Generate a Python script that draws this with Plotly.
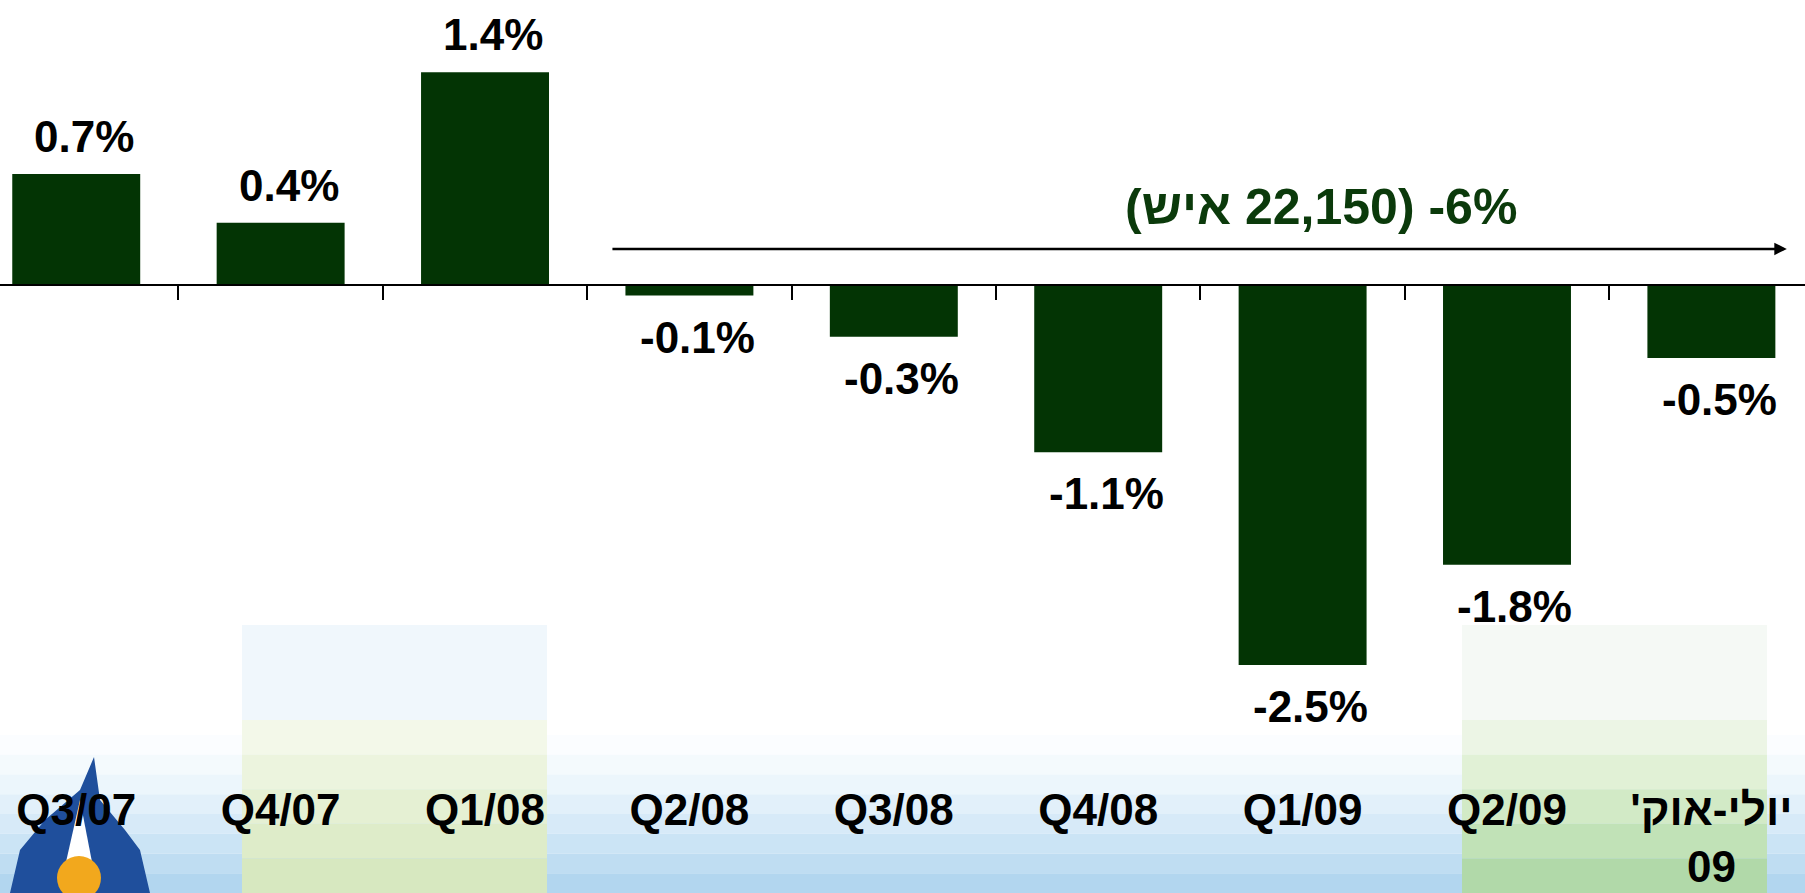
import plotly.graph_objects as go

# ---------------- data ----------------
categories = ["Q3/07", "Q4/07", "Q1/08", "Q2/08", "Q3/08", "Q4/08", "Q1/09", "Q2/09", "Jul-Oct/09"]
tick_labels = ["Q3/07", "Q4/07", "Q1/08", "Q2/08", "Q3/08", "Q4/08", "Q1/09", "Q2/09",
               "יולי-אוק'\u200f<br>09"]
values = [0.73, 0.41, 1.40, -0.07, -0.34, -1.10, -2.50, -1.84, -0.48]
value_labels = ["0.7%", "0.4%", "1.4%", "-0.1%", "-0.3%", "-1.1%", "-2.5%", "-1.8%", "-0.5%"]
trend_text = "(איש\u200e 22,150) -6%"

# ---------------- style ----------------
W, H = 1805, 893
MB = 113                     # bottom margin
PH = H - MB                  # plot-area height in px
BAR_COLOR = "#033404"
TEXT_GREEN = "#0b3a0b"
FONT = "Liberation Sans, Arial, sans-serif"
Y_RANGE = [-3.257, 1.875]
X_RANGE = [-0.373, 8.458]
zero_pos = (0 - Y_RANGE[0]) / (Y_RANGE[1] - Y_RANGE[0])


def py(px):
    """pixel row (from top of figure) -> paper y"""
    return (PH - px) / PH


def pxx(px):
    return px / W


fig = go.Figure()
fig.add_trace(go.Bar(
    x=categories, y=values, marker=dict(color=BAR_COLOR, line=dict(width=0)),
    hoverinfo="skip", showlegend=False,
))
# invisible helper trace for the zero axis (ticks at category boundaries)
fig.add_trace(go.Scatter(
    x=categories, y=[0] * len(categories), xaxis="x2", mode="markers",
    marker=dict(opacity=0), hoverinfo="skip", showlegend=False,
))

# value labels
annotations = []
for c, v, t in zip(categories, values, value_labels):
    annotations.append(dict(
        x=c, y=v, xref="x", yref="y", text=t, showarrow=False,
        yanchor="bottom" if v >= 0 else "top",
        yshift=11 if v >= 0 else -15, xshift=8,
        font=dict(family=FONT, size=44, color="black", weight="bold"),
    ))

# trend arrow + text
annotations.append(dict(
    x=8.369, y=0.237, ax=2.616, ay=0.237, xref="x", yref="y", axref="x", ayref="y",
    text="", showarrow=True, arrowhead=2, arrowsize=1.0, arrowwidth=2.5, arrowcolor="black",
))
annotations.append(dict(
    x=6.09, y=0.513, xref="x", yref="y", text=trend_text, showarrow=False,
    font=dict(family=FONT, size=50, color=TEXT_GREEN, weight="bold"),
))

# ---------------- faint background decoration ----------------
shapes = []
# bottom blue wash (stepped gradient)
blues = ["#fbfdff", "#f4fafd", "#ecf6fc", "#e2f0fa", "#d7eaf8", "#cbe4f5", "#bfddf2", "#b2d6ef"]
top = 735
step = (H - top) / len(blues)
for i, col in enumerate(blues):
    shapes.append(dict(type="rect", xref="paper", yref="paper", layer="below",
                       x0=0, x1=1, y0=py(top + (i + 1) * step), y1=py(top + i * step),
                       fillcolor=col, line=dict(width=0)))
# green panels
for (xa, xb, top_col, greens) in [
    (242, 547, "#f0f7fc", ["#f3f8e9", "#ecf4de", "#e5f0d3", "#deecc9", "#d7e8c0"]),
    (1462, 1767, "#f5f9f5", ["#ecf5e5", "#e1f1d6", "#d2eac6", "#c1e2b7", "#b1d9a9"]),
]:
    shapes.append(dict(type="rect", xref="paper", yref="paper", layer="below",
                       x0=pxx(xa), x1=pxx(xb), y0=py(720), y1=py(625),
                       fillcolor=top_col, line=dict(width=0)))
    gstep = (H - 720) / len(greens)
    for i, col in enumerate(greens):
        shapes.append(dict(type="rect", xref="paper", yref="paper", layer="below",
                           x0=pxx(xa), x1=pxx(xb), y0=py(720 + (i + 1) * gstep),
                           y1=py(720 + i * gstep), fillcolor=col, line=dict(width=0)))

# logo (simplified)
flame = [(94, 757), (100, 800), (125, 830), (140, 850), (150, 893), (10, 893), (20, 850), (45, 820), (80, 790)]
path = "M " + " L ".join(f"{pxx(x):.5f},{py(y):.5f}" for x, y in flame) + " Z"
shapes.append(dict(type="path", xref="paper", yref="paper", layer="below", path=path,
                   fillcolor="#1f4f9c", line=dict(width=0)))
shapes.append(dict(type="path", xref="paper", yref="paper", layer="below",
                   path=f"M {pxx(66):.5f},{py(862):.5f} L {pxx(80):.5f},{py(800):.5f} L {pxx(92):.5f},{py(862):.5f} Z",
                   fillcolor="#ffffff", line=dict(width=0)))
shapes.append(dict(type="circle", xref="paper", yref="paper", layer="below",
                   x0=pxx(57), x1=pxx(101), y0=py(900), y1=py(856),
                   fillcolor="#f2a81d", line=dict(width=0)))

fig.update_layout(
    width=W, height=H,
    margin=dict(l=0, r=0, t=0, b=MB, pad=0, autoexpand=False),
    paper_bgcolor="white", plot_bgcolor="rgba(0,0,0,0)",
    bargap=0.374,
    showlegend=False,
    font=dict(family=FONT),
    xaxis=dict(
        type="category", categoryorder="array", categoryarray=categories,
        range=X_RANGE, showline=False, showgrid=False, zeroline=False, automargin=False,
        ticks="", tickmode="array", tickvals=categories, ticktext=tick_labels,
        tickfont=dict(family=FONT, size=44, color="black", weight="bold"),
        tickangle=0, fixedrange=True,
    ),
    xaxis2=dict(
        overlaying="x", matches="x", anchor="free", position=zero_pos, automargin=False,
        type="category", categoryorder="array", categoryarray=categories,
        showline=True, linecolor="black", linewidth=2.5,
        ticks="outside", tickson="boundaries", ticklen=14, tickwidth=2, tickcolor="black",
        showticklabels=False, showgrid=False, zeroline=False,
    ),
    yaxis=dict(range=Y_RANGE, visible=False, showgrid=False, zeroline=False,
               fixedrange=True, automargin=False),
    annotations=annotations,
    shapes=shapes,
)

fig.write_html(
    "out.html",
    config={"displayModeBar": False, "staticPlot": True},
    post_script="document.body.style.margin='0';document.body.style.overflow='hidden';",
)
